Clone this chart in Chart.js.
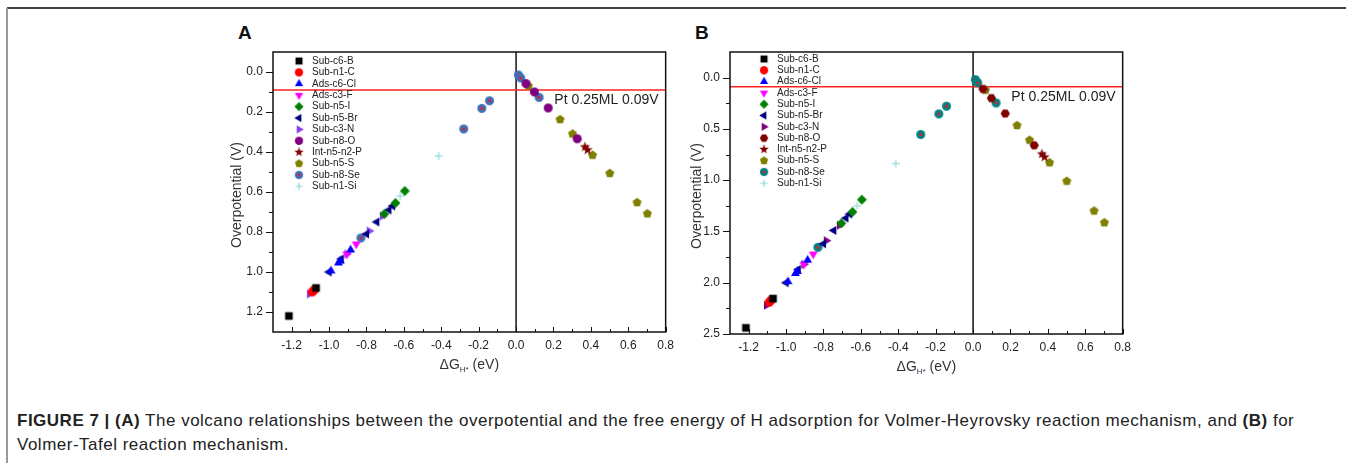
<!DOCTYPE html>
<html>
<head>
<meta charset="utf-8">
<script src="https://cdn.jsdelivr.net/npm/chart.js@4.4.1/dist/chart.umd.min.js"></script>
<style>
  body { margin: 0; background: #fff; width: 1346px; height: 463px; overflow: hidden; position: relative;
         font-family: "Liberation Sans", Arial, sans-serif; }
  .frame-top { position: absolute; left: 7px; top: 7px; right: 0; height: 2px; background: #444; }
  .frame-left { position: absolute; left: 6px; top: 8px; bottom: 0; width: 2px; background: #999; }
  .panel { position: absolute; top: 30px; }
  .lbl { position: absolute; top: 22px; font-weight: bold; font-size: 19px; color: #111; }
  .caption { position: absolute; left: 17px; top: 409px; font-size: 17px; letter-spacing: 0.5px; line-height: 24px; color: #222; white-space: nowrap; }
</style>
</head>
<body>
<div class="frame-top"></div>
<div class="frame-left"></div>
<div class="lbl" style="left:238px">A</div>
<div class="lbl" style="left:695px">B</div>
<canvas id="chartA" class="panel" style="left:200px" width="480" height="350"></canvas>
<canvas id="chartB" class="panel" style="left:657px" width="480" height="350"></canvas>
<div class="caption"><b>FIGURE 7 | (A)</b> The volcano relationships between the overpotential and the free energy of H adsorption for Volmer-Heyrovsky reaction mechanism, and <b>(B)</b> for<br>Volmer-Tafel reaction mechanism.</div>

<script>
// ---- data ----
const seriesNames = ['Sub-c6-B', 'Sub-n1-C', 'Ads-c6-Cl', 'Ads-c3-F', 'Sub-n5-I', 'Sub-n5-Br',
  'Sub-c3-N', 'Sub-n8-O', 'Int-n5-n2-P', 'Sub-n5-S', 'Sub-n8-Se', 'Sub-n1-Si'];

// delta G_H* (eV), shared by both panels
const subC6B_x = [-1.215, -1.07];
const subN1C_x = [-1.09, -1.08];
const adsC6Cl_x = [-0.99, -0.95, -0.94, -0.885];
const adsC3F_x = [-0.905, -0.855];
const subN5I_x = [-0.705, -0.645, -0.595];
const subN5Br_x = [-1.0, -0.935, -0.8, -0.745, -0.68, -0.66];
const subC3N_x = [-1.105, -0.905, -0.785, -0.715];
const subN8O_x = [0.053, 0.098, 0.172, 0.327];
const intP_x = [0.368, 0.382];
const subN5S_x = [0.066, 0.235, 0.302, 0.409, 0.501, 0.647, 0.702];
const subN8Se_x = [-0.83, -0.28, -0.183, -0.142, 0.012, 0.025, 0.123];
const subN1Si_x = [-0.62, -0.414];

// overpotential (V), panel A (Volmer-Heyrovsky)
const subC6B_yA = [1.22, 1.08];
const subN1C_yA = [1.10, 1.09];
const adsC6Cl_yA = [0.995, 0.955, 0.945, 0.89];
const adsC3F_yA = [0.91, 0.86];
const subN5I_yA = [0.71, 0.655, 0.595];
const subN5Br_yA = [1.0, 0.935, 0.81, 0.75, 0.69, 0.67];
const subC3N_yA = [1.11, 0.91, 0.795, 0.72];
const subN8O_yA = [0.058, 0.10, 0.18, 0.334];
const intP_yA = [0.375, 0.39];
const subN5S_yA = [0.07, 0.238, 0.31, 0.416, 0.507, 0.653, 0.709];
const subN8Se_yA = [0.83, 0.285, 0.182, 0.144, 0.015, 0.03, 0.127];
const subN1Si_yA = [0.62, 0.42];

// overpotential (V), panel B (Volmer-Tafel)
const subC6B_yB = [2.44, 2.155];
const subN1C_yB = [2.19, 2.17];
const adsC6Cl_yB = [1.99, 1.91, 1.89, 1.78];
const adsC3F_yB = [1.82, 1.72];
const subN5I_yB = [1.42, 1.31, 1.19];
const subN5Br_yB = [2.0, 1.87, 1.62, 1.49, 1.37, 1.33];
const subC3N_yB = [2.22, 1.82, 1.59, 1.44];
const subN8O_yB = [0.11, 0.20, 0.35, 0.66];
const intP_yB = [0.745, 0.775];
const subN5S_yB = [0.123, 0.467, 0.61, 0.83, 1.01, 1.30, 1.415];
const subN8Se_yB = [1.655, 0.555, 0.354, 0.279, 0.02, 0.05, 0.247];
const subN1Si_yB = [1.25, 0.837];

const xTicks = [-1.2, -1.0, -0.8, -0.6, -0.4, -0.2, 0.0, 0.2, 0.4, 0.6, 0.8];
const xTickLabels = ['-1.2', '-1.0', '-0.8', '-0.6', '-0.4', '-0.2', '0.0', '0.2', '0.4', '0.6', '0.8'];
const yTicksA = [0.0, 0.2, 0.4, 0.6, 0.8, 1.0, 1.2];
const yTickLabelsA = ['0.0', '0.2', '0.4', '0.6', '0.8', '1.0', '1.2'];
const yTicksB = [0.0, 0.5, 1.0, 1.5, 2.0, 2.5];
const yTickLabelsB = ['0.0', '0.5', '1.0', '1.5', '2.0', '2.5'];

const ptLevel = 0.09;
const ptLabel = 'Pt 0.25ML 0.09V';

const allX = [subC6B_x, subN1C_x, adsC6Cl_x, adsC3F_x, subN5I_x, subN5Br_x, subC3N_x, subN8O_x, intP_x, subN5S_x, subN8Se_x, subN1Si_x];
const allYA = [subC6B_yA, subN1C_yA, adsC6Cl_yA, adsC3F_yA, subN5I_yA, subN5Br_yA, subC3N_yA, subN8O_yA, intP_yA, subN5S_yA, subN8Se_yA, subN1Si_yA];
const allYB = [subC6B_yB, subN1C_yB, adsC6Cl_yB, adsC3F_yB, subN5I_yB, subN5Br_yB, subC3N_yB, subN8O_yB, intP_yB, subN5S_yB, subN8Se_yB, subN1Si_yB];

const colorsA = ['#000000', '#ff0000', '#0000ff', '#ff00ff', '#008000', '#000080', '#8a3cf5', '#800080', '#800000', '#808000', '#3e6fb8', '#7fd4d4'];
const colorsB = ['#000000', '#ff0000', '#0000ff', '#ff00ff', '#008000', '#000080', '#800080', '#800000', '#800000', '#808000', '#008080', '#7fd4d4'];
const shapesA = ['square', 'circle', 'up', 'down', 'diamond', 'left', 'right', 'circle', 'star', 'pentagon', 'dot', 'plus'];
const shapesB = ['square', 'circle', 'up', 'down', 'diamond', 'left', 'right', 'hexagon', 'star', 'pentagon', 'dot', 'plus'];

const FONT = '"Liberation Sans", Arial, sans-serif';

// ---- marker images ----
function poly(g, cx, cy, r, n, startDeg) {
  for (let i = 0; i < n; i++) {
    const a = (startDeg + i * 360 / n) * Math.PI / 180;
    const px = cx + r * Math.cos(a), py = cy + r * Math.sin(a);
    if (i === 0) g.moveTo(px, py); else g.lineTo(px, py);
  }
  g.closePath();
}

function starPath(g, cx, cy, ro, ri) {
  for (let i = 0; i < 10; i++) {
    const a = (-90 + i * 36) * Math.PI / 180;
    const r = i % 2 ? ri : ro;
    const px = cx + r * Math.cos(a), py = cy + r * Math.sin(a);
    if (i === 0) g.moveTo(px, py); else g.lineTo(px, py);
  }
  g.closePath();
}

function marker(shape, color, size) {
  const s = size + 4;
  const c = document.createElement('canvas');
  c.width = c.height = s;
  const g = c.getContext('2d');
  const m = s / 2, r = size / 2;
  g.fillStyle = color;
  g.strokeStyle = color;
  g.beginPath();
  if (shape === 'square') g.rect(m - r * 0.85, m - r * 0.85, r * 1.7, r * 1.7);
  else if (shape === 'circle' || shape === 'dot') g.arc(m, m, r, 0, 2 * Math.PI);
  else if (shape === 'hexagon') poly(g, m, m, r * 1.02, 6, 0);
  else if (shape === 'diamond') poly(g, m, m, r * 1.1, 4, -90);
  else if (shape === 'up') poly(g, m, m, r * 1.15, 3, -90);
  else if (shape === 'down') poly(g, m, m, r * 1.15, 3, 90);
  else if (shape === 'left') poly(g, m, m, r * 1.15, 3, 180);
  else if (shape === 'right') poly(g, m, m, r * 1.15, 3, 0);
  else if (shape === 'pentagon') poly(g, m, m, r * 1.05, 5, -90);
  else if (shape === 'star') starPath(g, m, m, r * 1.2, r * 0.5);
  else if (shape === 'plus') {
    g.moveTo(m - r, m); g.lineTo(m + r, m);
    g.moveTo(m, m - r); g.lineTo(m, m + r);
    g.lineWidth = 1;
    g.stroke();
    return c;
  }
  g.fill();
  if (shape === 'dot') {
    g.fillStyle = '#e0202a';
    g.beginPath();
    g.arc(m, m, r * 0.35, 0, 2 * Math.PI);
    g.fill();
  }
  return c;
}

// ---- frame, ticks, titles, legend ----
const decor = {
  id: 'decor',
  afterDraw(chart) {
    const o = chart.options.plugins.decor;
    if (!o) return;
    const { ctx, chartArea: a, scales: { x, y } } = chart;
    ctx.save();
    // box
    ctx.strokeStyle = '#111';
    ctx.lineWidth = 1.5;
    ctx.strokeRect(a.left, a.top, a.right - a.left, a.bottom - a.top);
    // x ticks (inward)
    ctx.lineWidth = 1;
    ctx.beginPath();
    for (let i = 0; i < xTicks.length; i++) {
      const px = Math.round(x.getPixelForValue(xTicks[i])) + 0.5;
      ctx.moveTo(px, a.bottom); ctx.lineTo(px, a.bottom - 5);
      const mid = xTicks[i] - 0.1;
      if (mid > x.min) {
        const pm = Math.round(x.getPixelForValue(mid)) + 0.5;
        ctx.moveTo(pm, a.bottom); ctx.lineTo(pm, a.bottom - 3);
      }
    }
    // y ticks (outward)
    for (let i = 0; i < o.yTicks.length; i++) {
      const py = Math.round(y.getPixelForValue(o.yTicks[i])) + 0.5;
      ctx.moveTo(a.left, py); ctx.lineTo(a.left - 7, py);
      const mid = o.yTicks[i] + o.yMinor;
      if (mid < y.max) {
        const pm = Math.round(y.getPixelForValue(mid)) + 0.5;
        ctx.moveTo(a.left, pm); ctx.lineTo(a.left - 4, pm);
      }
    }
    ctx.stroke();

    // Pt reference label
    ctx.fillStyle = '#222';
    ctx.font = '14px ' + FONT;
    ctx.textAlign = 'right';
    ctx.textBaseline = 'top';
    ctx.fillText(ptLabel, a.right - 7, y.getPixelForValue(ptLevel) + 3);

    // axis titles
    ctx.fillStyle = '#333';
    ctx.font = '14px ' + FONT;
    ctx.textAlign = 'center';
    ctx.textBaseline = 'middle';
    ctx.save();
    ctx.translate(o.yTitleX, (a.top + a.bottom) / 2 + 3);
    ctx.rotate(-Math.PI / 2);
    ctx.fillText('Overpotential (V)', 0, 0);
    ctx.restore();

    const big = '14px ' + FONT, small = '8px ' + FONT;
    ctx.textAlign = 'left';
    ctx.textBaseline = 'alphabetic';
    ctx.font = big; const w1 = ctx.measureText('\u0394G').width;
    ctx.font = small; const w2 = ctx.measureText('H*').width;
    ctx.font = big; const w3 = ctx.measureText(' (eV)').width;
    let tx = (a.left + a.right) / 2 - (w1 + w2 + w3) / 2;
    const ty = a.bottom + 37;
    ctx.font = big; ctx.fillText('\u0394G', tx, ty); tx += w1;
    ctx.font = small; ctx.fillStyle = '#335'; ctx.fillText('H*', tx, ty + 3); tx += w2;
    ctx.font = big; ctx.fillStyle = '#333'; ctx.fillText(' (eV)', tx, ty);

    // legend
    ctx.font = '10px ' + FONT;
    ctx.fillStyle = '#222';
    ctx.textBaseline = 'middle';
    const sets = chart.data.datasets.filter(d => d.inLegend);
    sets.forEach((d, i) => {
      const ly = a.top + o.legTop + i * o.legStep;
      const img = d.pointStyle;
      ctx.drawImage(img, a.left + o.legMark - img.width / 2 + 0.5, ly - img.height / 2 + 0.5, img.width - 1, img.height - 1);
      ctx.fillText(d.label, a.left + o.legText, ly);
    });
    ctx.restore();
  }
};

function buildPanel(id, p) {
  const datasets = seriesNames.map((name, i) => ({
    label: name,
    inLegend: true,
    data: allX[i].map((v, k) => ({ x: v, y: p.ys[i][k] })),
    pointStyle: marker(p.shapes[i], p.colors[i], i === 11 ? 8 : 9),
    order: 1
  }));
  // vertical zero line and Pt reference line
  datasets.push({
    type: 'line', label: 'zero', data: [{ x: 0, y: p.yMin }, { x: 0, y: p.yMax }],
    borderColor: '#111', borderWidth: 1.5, pointRadius: 0, order: 5
  });
  datasets.push({
    type: 'line', label: 'Pt', data: [{ x: -1.3, y: ptLevel }, { x: 0.8, y: ptLevel }],
    borderColor: '#ff2020', borderWidth: 1.5, pointRadius: 0, order: 4
  });

  new Chart(document.getElementById(id), {
    type: 'scatter',
    data: { datasets },
    options: {
      responsive: false,
      animation: false,
      devicePixelRatio: 1,
      layout: { padding: { top: 22, right: p.padRight, left: 0, bottom: 0 } },
      plugins: {
        legend: { display: false },
        tooltip: { enabled: false },
        decor: p.decor
      },
      scales: {
        x: {
          type: 'linear', min: -1.3, max: 0.8,
          grid: { display: false, drawTicks: false },
          border: { display: false },
          ticks: { padding: 6, autoSkip: false, maxRotation: 0, color: '#222', font: { size: 12, family: FONT },
                   callback: (v, i) => xTickLabels[i] },
          afterBuildTicks: s => { s.ticks = xTicks.map(v => ({ value: v })); },
          afterFit: s => { s.height = p.xAxisH; }
        },
        y: {
          type: 'linear', reverse: true, min: p.yMin, max: p.yMax,
          grid: { display: false, drawTicks: false },
          border: { display: false },
          ticks: { padding: 10, autoSkip: false, color: '#222', font: { size: 12, family: FONT },
                   callback: (v, i) => p.yLabels[i] },
          afterBuildTicks: s => { s.ticks = p.yTicks.map(v => ({ value: v })); },
          afterFit: s => { s.width = 73; }
        }
      }
    },
    plugins: [decor]
  });
}

buildPanel('chartA', {
  ys: allYA, colors: colorsA, shapes: shapesA,
  yMin: -0.1, yMax: 1.3, yTicks: yTicksA, yLabels: yTickLabelsA,
  padRight: 14, xAxisH: 48,
  decor: { yTicks: yTicksA, yMinor: 0.1, yTitleX: 37, legMark: 26, legText: 39, legTop: 9, legStep: 11.4 }
});

buildPanel('chartB', {
  ys: allYB, colors: colorsB, shapes: shapesB,
  yMin: -0.25, yMax: 2.5, yTicks: yTicksB, yLabels: yTickLabelsB,
  padRight: 11, xAxisH: 46,
  decor: { yTicks: yTicksB, yMinor: 0.25, yTitleX: 40, legMark: 34, legText: 47, legTop: 7, legStep: 11.3 }
});
</script>
</body>
</html>
